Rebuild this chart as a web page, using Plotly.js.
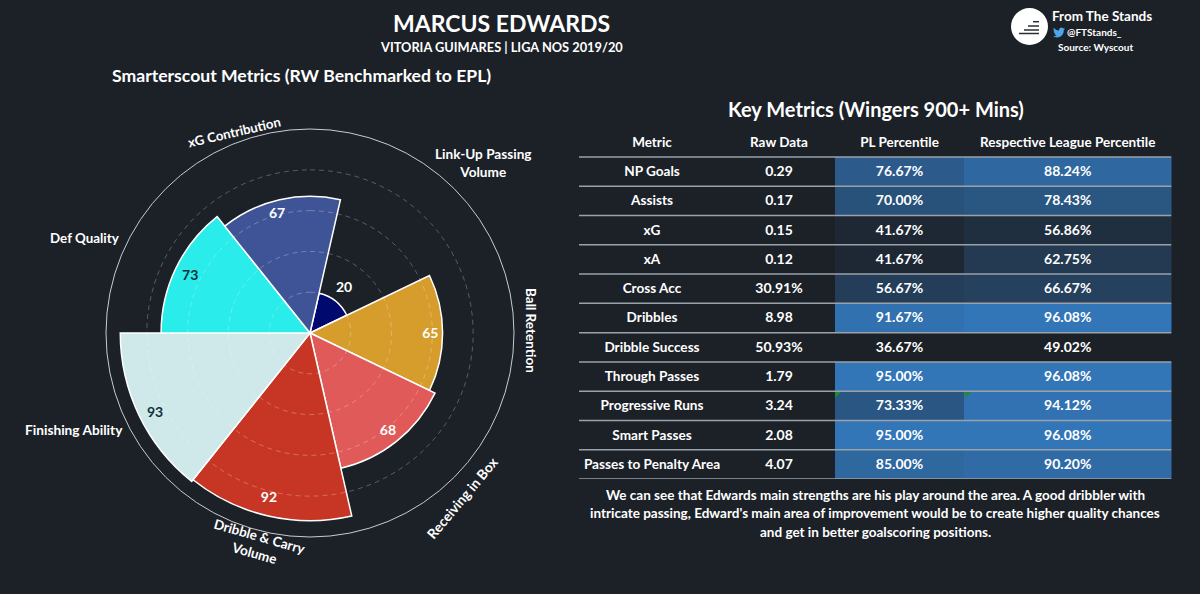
<!DOCTYPE html>
<html>
<head>
<meta charset="utf-8">
<script src="https://cdn.plot.ly/plotly-3.0.1.min.js"></script>
<style>
  html, body { margin: 0; padding: 0; background: #1c2128; }
</style>
</head>
<body>
<div id="chart" style="width:1200px;height:594px;"></div>
<script>
// polar metrics, clockwise starting from the top right slice
const metricNames = ["Link-Up Passing Volume", "Ball Retention", "Receiving in Box", "Dribble & Carry Volume", "Finishing Ability", "Def Quality", "xG Contribution"];
const metricValues = [20, 65, 68, 92, 93, 73, 67];
const metricLabelRadius = [27.3, 59, 61.4, 83.8, 85.5, 65, 60.5];
const metricLabelTheta = [37.7, 90.5, 141.5, 193.9, 242.7, 295.4, 344.5];
const metricColors = ["#000a6e", "#d69c2c", "#e05a5a", "#c73625", "#cfe8ea", "#29eceb", "#3f5496"];
const metricTextColors = ["#ffffff", "#ffffff", "#ffffff", "#ffffff", "#12303a", "#12303a", "#ffffff"];
const gridRings = [20, 40, 60, 80];

// table columns
const tableHeader = ["Metric", "Raw Data", "PL Percentile", "Respective League Percentile"];
const rowMetric = ["NP Goals", "Assists", "xG", "xA", "Cross Acc", "Dribbles", "Dribble Success", "Through Passes", "Progressive Runs", "Smart Passes", "Passes to Penalty Area"];
const rowRaw = ["0.29", "0.17", "0.15", "0.12", "30.91%", "8.98", "50.93%", "1.79", "3.24", "2.08", "4.07"];
const rowPL = [76.67, 70.00, 41.67, 41.67, 56.67, 91.67, 36.67, 95.00, 73.33, 95.00, 85.00];
const rowLeague = [88.24, 78.43, 56.86, 62.75, 66.67, 96.08, 49.02, 96.08, 94.12, 96.08, 90.20];

const BG = "#1c2128";
const CELL_BLUE = "#3376b8";
const FONT = "Lato, 'Noto Sans', sans-serif";

// pixel helpers for paper coordinates
const px = x => x / 1200;
const py = y => 1 - y / 594;

const sliceWidth = 360 / metricNames.length;
const firstSliceAngle = 38.57;
const metricTheta = metricNames.map((_, i) => firstSliceAngle + i * sliceWidth);

// dashed rings have to sit on top of the bars, polar gridlines can't do that
const ringTheta = [];
for (let t = 0; t <= 360; t += 4) ringTheta.push(t);

const traces = [
    {
        type: "barpolar",
        r: metricValues,
        theta: metricTheta,
        width: metricNames.map(() => sliceWidth),
        marker: {color: metricColors, line: {color: "#ffffff", width: 1.5}},
        hoverinfo: "skip"
    }
];

gridRings.forEach(ring => {
    traces.push({
        type: "scatterpolar",
        mode: "lines",
        r: ringTheta.map(() => ring),
        theta: ringTheta,
        line: {color: "rgba(255,255,255,0.27)", width: 1, dash: "5px,4px"},
        hoverinfo: "skip"
    });
});

traces.push({
    type: "scatterpolar",
    mode: "text",
    r: metricLabelRadius,
    theta: metricLabelTheta,
    text: metricValues.map(String),
    textfont: {family: FONT, size: 14, color: metricTextColors, weight: 700},
    hoverinfo: "skip"
});

// table is built on a cartesian axis, the table trace can't go below 33px rows at this font size
const columnEdges = [0, 144, 256, 385, 592.5];
const columnCenters = [73, 200, 320.5, 488.75];
const columnFontSizes = [13.6, 14, 14, 14];
const rowCenters = rowMetric.map((_, i) => i + 0.5);
const textNudge = 0.035; // text sits a touch high in its row otherwise

[[rowPL, 2], [rowLeague, 3]].forEach(([values, col]) => {
    traces.push({
        type: "heatmap",
        x: [columnEdges[col], columnEdges[col + 1]],
        y: rowCenters,
        z: values.map(v => [v]),
        colorscale: [[0, BG], [1, CELL_BLUE]],
        showscale: false,
        hoverinfo: "skip"
    });
});

const pct = v => v.toFixed(2) + "%";
[rowMetric, rowRaw, rowPL.map(pct), rowLeague.map(pct)].forEach((values, col) => {
    traces.push({
        type: "scatter",
        mode: "text",
        x: [columnCenters[col]].concat(values.map(() => columnCenters[col])),
        y: [-0.5 + textNudge].concat(rowCenters.map(y => y + textNudge)),
        text: [tableHeader[col]].concat(values),
        textposition: "middle center",
        textfont: {
            family: FONT,
            size: [13.5].concat(values.map(() => columnFontSizes[col])),
            color: "#ffffff",
            weight: 700
        },
        hoverinfo: "skip"
    });
});

// free text on the page
const note = (text, x, y, size, extra) => Object.assign({
    text: text,
    xref: "paper",
    yref: "paper",
    x: px(x),
    y: py(y),
    xanchor: "center",
    yanchor: "middle",
    showarrow: false,
    font: {family: FONT, size: size, color: "#ffffff", weight: 700}
}, extra || {});

const annotations = [
    note("MARCUS EDWARDS", 501, 23, 23),
    note("VITORIA GUIMARES | LIGA NOS 2019/20", 501, 47, 12.8),
    note("Smarterscout Metrics (RW Benchmarked to EPL)", 301, 76, 17.6),
    note("Key Metrics (Wingers 900+ Mins)", 876, 109, 20),
    note("We can see that Edwards main strengths are his play around the area. A good dribbler with", 875, 495, 13.5),
    note("intricate passing, Edward's main area of improvement would be to create higher quality chances", 875, 513, 13.5),
    note("and get in better goalscoring positions.", 875, 532, 13.5),
    note("From The Stands", 1102, 16, 13.5),
    note("@FTStands_", 1094, 32, 10),
    note("Source: Wyscout", 1095, 47, 10),
    note("Link-Up Passing<br>Volume", 483, 163, 13.6),
    note("Ball Retention", 531, 330, 13.5, {textangle: 90}),
    note("Receiving in Box", 462, 497, 13.8, {textangle: -50}),
    note("Dribble &amp; Carry<br>Volume", 257, 545, 13.5, {textangle: 16}),
    note("Finishing Ability", 74, 429, 13.7),
    note("Def Quality", 85, 238, 13.4),
    note("xG Contribution", 234, 132, 13.2, {textangle: -13})
];

// rules between the table rows
const shapes = rowMetric.map((_, i) => i).concat(rowMetric.length).map(i => ({
    type: "line",
    xref: "x",
    yref: "y",
    x0: columnEdges[0],
    x1: columnEdges[4],
    y0: i,
    y1: i,
    line: {color: "#9aa1a8", width: 1.5}
}));

const pathShape = (path, color) => ({type: "path", xref: "paper", yref: "paper", path: path, fillcolor: color, line: {width: 0}});
const pt = (x, y) => `${px(x)},${py(y)}`;

// green flags in the progressive runs row
[835, 965].forEach(x => {
    shapes.push(pathShape(`M${pt(x, 392)}L${pt(x + 6, 392)}L${pt(x, 398)}Z`, "#1f8a2e"));
});

// logo
shapes.push({type: "circle", xref: "paper", yref: "paper", x0: px(1011), x1: px(1048), y0: py(45), y1: py(8), fillcolor: "#ffffff", line: {width: 0}});
[[1033, 21.7], [1028, 26], [1024, 30], [1019, 33.5]].forEach(s => {
    shapes.push({type: "line", xref: "paper", yref: "paper", x0: px(s[0]), x1: px(1039), y0: py(s[1]), y1: py(s[1]), line: {color: "#2a2f36", width: 1.5}});
});

const birdSvg = "<svg xmlns='http://www.w3.org/2000/svg' viewBox='0 0 24 24'><path fill='#4aa8e8' d='M23.95 4.57a10 10 0 01-2.82.77 4.96 4.96 0 002.16-2.72c-.95.55-2 .95-3.12 1.18a4.92 4.92 0 00-8.38 4.48A13.94 13.94 0 011.64 3.16a4.82 4.82 0 00-.67 2.48c0 1.71.87 3.21 2.19 4.1a4.9 4.9 0 01-2.23-.62v.06a4.92 4.92 0 003.95 4.83 5 5 0 01-2.21.08 4.94 4.94 0 004.6 3.42A9.87 9.87 0 010 19.54a14 14 0 007.56 2.21c9.05 0 14-7.5 14-13.98 0-.21 0-.42-.02-.63a9.94 9.94 0 002.46-2.55z'/></svg>";

const layout = {
    width: 1200,
    height: 594,
    autosize: false,
    margin: {l: 0, r: 0, t: 0, b: 0},
    paper_bgcolor: BG,
    plot_bgcolor: "rgba(0,0,0,0)",
    showlegend: false,
    font: {family: FONT, color: "#ffffff"},
    polar: {
        domain: {x: [px(106), px(514)], y: [py(537), py(129)]},
        bgcolor: BG,
        barmode: "overlay",
        radialaxis: {range: [0, 100], visible: false},
        angularaxis: {
            direction: "clockwise",
            rotation: 90,
            showticklabels: false,
            ticks: "",
            showgrid: false,
            showline: true,
            linecolor: "#c8ccd0",
            linewidth: 1
        }
    },
    xaxis: {domain: [px(579), px(1171.5)], range: [0, 592.5], visible: false, fixedrange: true},
    yaxis: {domain: [py(479), py(127.7)], range: [11, -1], visible: false, fixedrange: true},
    images: [{
        source: "data:image/svg+xml;utf8," + encodeURIComponent(birdSvg),
        xref: "paper",
        yref: "paper",
        x: px(1053),
        y: py(26.5),
        sizex: px(12),
        sizey: 12 / 594,
        xanchor: "left",
        yanchor: "top",
        layer: "above"
    }],
    annotations: annotations,
    shapes: shapes
};

Plotly.newPlot("chart", traces, layout, {displayModeBar: false, staticPlot: true});
</script>
</body>
</html>
